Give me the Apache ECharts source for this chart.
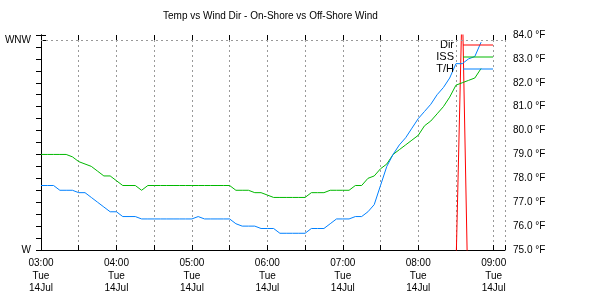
<!DOCTYPE html>
<html>
<head>
<meta charset="utf-8">
<script src="https://cdn.jsdelivr.net/npm/echarts@6/dist/echarts.min.js"></script>
<style>
html, body { margin: 0; padding: 0; background: #fff; }
#box { width: 610px; height: 300px; }
</style>
</head>
<body>
<div id="box"></div>
<script>
// sample times, every 5 minutes from 03:00
let times = ['03:00', '03:05', '03:10', '03:15', '03:20', '03:25', '03:30', '03:35', '03:40', '03:45', '03:50', '03:55',
	'04:00', '04:05', '04:10', '04:15', '04:20', '04:25', '04:30', '04:35', '04:40', '04:45', '04:50', '04:55',
	'05:00', '05:05', '05:10', '05:15', '05:20', '05:25', '05:30', '05:35', '05:40', '05:45', '05:50', '05:55',
	'06:00', '06:05', '06:10', '06:15', '06:20', '06:25', '06:30', '06:35', '06:40', '06:45', '06:50', '06:55',
	'07:00', '07:05', '07:10', '07:15', '07:20', '07:25', '07:30', '07:35', '07:40', '07:45', '07:50', '07:55',
	'08:00', '08:05', '08:10', '08:15', '08:20', '08:25', '08:30', '08:35', '08:40', '08:45', '08:50'];

// wind direction, degrees (mostly below W, off the chart)
let dir = [236, 241, 238, 232, 229, 233, 240, 246, 244, 239, 235, 231,
	228, 234, 237, 242, 245, 240, 236, 233, 230, 226, 229, 235,
	238, 243, 247, 244, 240, 236, 232, 228, 225, 230, 234, 238,
	241, 245, 249, 246, 242, 238, 235, 231, 228, 232, 236, 240,
	243, 247, 250, 246, 242, 239, 236, 233, 238, 242, 246, 249,
	252, 255, 251, 248, 252, 256, 268, 297, 262, 255, 250];

// ISS temperature, °F
let iss = [79.0, 79.0, 79.0, 79.0, 79.0, 78.9, 78.7, 78.6, 78.5, 78.3, 78.1, 78.1,
	77.9, 77.7, 77.7, 77.7, 77.5, 77.7, 77.7, 77.7, 77.7, 77.7, 77.7, 77.7,
	77.7, 77.7, 77.7, 77.7, 77.7, 77.7, 77.7, 77.5, 77.5, 77.5, 77.4, 77.4,
	77.3, 77.2, 77.2, 77.2, 77.2, 77.2, 77.2, 77.4, 77.4, 77.4, 77.5, 77.5,
	77.5, 77.5, 77.7, 77.7, 78.0, 78.1, 78.4, 78.6, 79.0, 79.2, 79.4, 79.6,
	79.8, 80.2, 80.4, 80.7, 81.0, 81.4, 81.9, 82.0, 82.1, 82.2, 82.6];

// T/H sensor temperature, °F
let th = [77.7, 77.7, 77.7, 77.5, 77.5, 77.5, 77.4, 77.4, 77.2, 77.0, 76.8, 76.6,
	76.6, 76.4, 76.4, 76.4, 76.3, 76.3, 76.3, 76.3, 76.3, 76.3, 76.3, 76.3,
	76.3, 76.4, 76.3, 76.3, 76.3, 76.3, 76.3, 76.1, 76.0, 76.0, 76.0, 75.9,
	75.9, 75.9, 75.7, 75.7, 75.7, 75.7, 75.7, 75.9, 75.9, 75.9, 76.1, 76.3,
	76.3, 76.3, 76.4, 76.4, 76.6, 76.9, 77.7, 78.5, 79.0, 79.4, 79.7, 80.1,
	80.5, 80.8, 81.1, 81.5, 81.8, 82.2, 82.8, 82.8, 83.0, 83.1, 83.7];

let dirNames = {270: 'W', 292.5: 'WNW'};
let font = 'Liberation Sans';

function toMin(t) {
	let p = t.split(':');
	return (parseInt(p[0]) - 3) * 60 + parseInt(p[1]);
}

function pairs(vals) {
	return times.map(function(t, i) {
		return [toMin(t), vals[i]];
	});
}

function timeLabel(v) {
	if (v % 60 !== 0) return '';
	let h = 3 + v / 60;
	return (h < 10 ? '0' + h : h) + ':00\nTue\n14Jul';
}

let chart = echarts.init(document.getElementById('box'));

let option = {
	animation: false,
	title: {
		text: 'Temp vs Wind Dir - On-Shore vs Off-Shore Wind',
		left: 158,
		top: 6,
		textStyle: { fontFamily: font, fontSize: 10, fontWeight: 'normal', color: '#000' }
	},
	legend: {
		data: ['Dir', 'ISS', 'T/H'],
		orient: 'vertical',
		right: 112,
		top: 34,
		align: 'right',
		icon: 'rect',
		itemWidth: 30,
		itemHeight: 1,
		itemGap: 0,
		textStyle: { fontFamily: font, fontSize: 11, color: '#000', lineHeight: 12, padding: [0, 4, 0, 0] }
	},
	grid: { left: 41, right: 105, top: 35, bottom: 50 },
	xAxis: [{
		type: 'value',
		min: 0,
		max: 369,
		interval: 30,
		axisLine: { show: true, lineStyle: { color: '#000', width: 1 } },
		axisTick: { show: true, inside: true, length: 5, lineStyle: { color: '#000' } },
		axisLabel: {
			formatter: timeLabel,
			fontFamily: font, fontSize: 10, color: '#000', lineHeight: 12.5, margin: 7
		},
		splitLine: { show: true, lineStyle: { color: '#999', type: [2, 3] } }
	}, {
		type: 'value',
		position: 'top',
		min: 0,
		max: 369,
		interval: 30,
		axisLine: { show: false },
		axisTick: { show: true, inside: true, length: 5, lineStyle: { color: '#000' } },
		axisLabel: { show: false },
		splitLine: { show: false }
	}],
	yAxis: [{
		type: 'value',
		min: 270,
		max: 293.04,
		interval: 22.5,
		axisLine: { show: true, lineStyle: { color: '#000' } },
		axisTick: { show: true, inside: true, length: 5, lineStyle: { color: '#000' } },
		axisLabel: {
			formatter: function(v) { return dirNames[v] || ''; },
			fontFamily: font, fontSize: 10, color: '#000', margin: 10
		},
		splitLine: { show: false }
	}, {
		type: 'value',
		position: 'right',
		min: 75,
		max: 84,
		interval: 0.5,
		axisLine: { show: true, lineStyle: { color: '#000' } },
		axisTick: { show: true, inside: true, length: 5, lineStyle: { color: '#000' } },
		axisLabel: {
			formatter: function(v) { return v % 1 === 0 ? v.toFixed(1) + ' °F' : ''; },
			fontFamily: font, fontSize: 10, color: '#000', margin: 8
		},
		splitLine: { show: false }
	}],
	series: [{
		name: 'Dir',
		type: 'line',
		yAxisIndex: 0,
		showSymbol: false,
		symbol: 'none',
		color: '#ff0000',
		lineStyle: { width: 1 },
		z: 1,
		markLine: {
			silent: true,
			symbol: 'none',
			label: { show: false },
			lineStyle: { color: '#999', type: [2, 3], width: 1 },
			data: [{ yAxis: 292.5 }]
		},
		data: pairs(dir)
	}, {
		name: 'ISS',
		type: 'line',
		yAxisIndex: 1,
		showSymbol: false,
		symbol: 'none',
		color: '#00b800',
		lineStyle: { width: 1 },
		data: pairs(iss)
	}, {
		name: 'T/H',
		type: 'line',
		yAxisIndex: 1,
		showSymbol: false,
		symbol: 'none',
		color: '#0080ff',
		lineStyle: { width: 1 },
		data: pairs(th)
	}]
};
chart.setOption(option);
</script>
</body>
</html>
